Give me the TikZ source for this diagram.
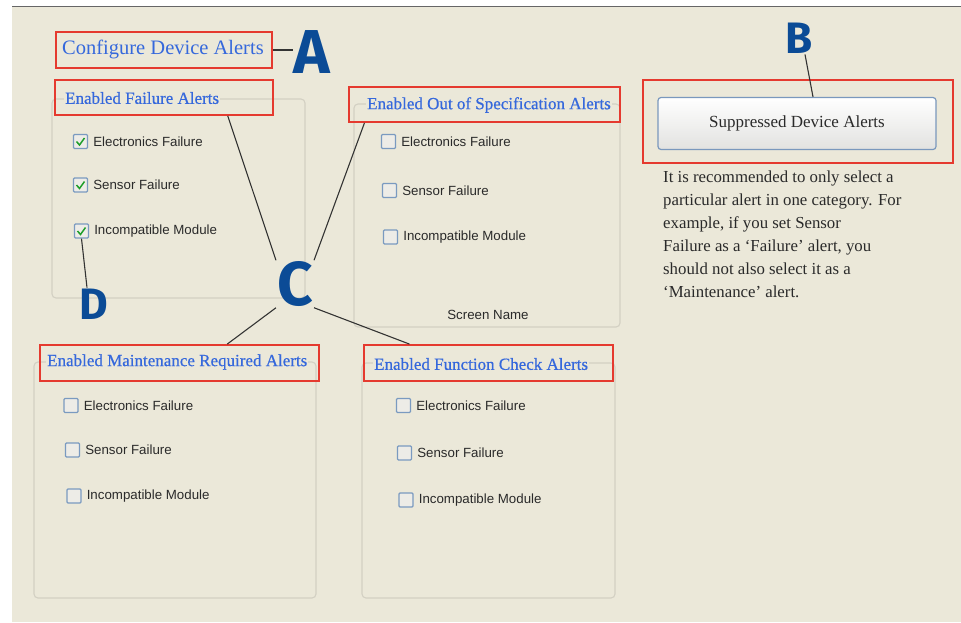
\documentclass[tikz,border=0pt]{standalone}
\usepackage{fontspec}
\setmainfont{Liberation Serif}
\newfontfamily\uisans{Liberation Sans}
\newfontfamily\bigsans{Fira Sans}
\newfontfamily\semiserif{Liberation Serif}[FakeBold=0.6]
\usetikzlibrary{calc}
\definecolor{bg}{HTML}{EBE8D9}
\definecolor{redc}{HTML}{E53A2F}
\definecolor{titleblue}{HTML}{3568DC}
\definecolor{letterblue}{HTML}{0B4B96}
\definecolor{grpc}{HTML}{D3D0C3}
\definecolor{cbc}{HTML}{7A9AC0}
\definecolor{cbfill}{HTML}{EDECE7}
\definecolor{checkc}{HTML}{1E9E2A}
\definecolor{btnborder}{HTML}{7A98BD}
\definecolor{btnbot}{HTML}{E2E2E0}
\definecolor{txt}{HTML}{2A2A2A}
\begin{document}
\begin{tikzpicture}[x=1pt,y=-1pt,
  redbox/.style={draw=redc, line width=1.8pt, inner sep=0pt},
  grp/.style={draw=grpc, line width=1.1pt, rounded corners=4pt},
  title/.style={font=\semiserif\fontsize{17}{20}\selectfont, text=titleblue, fill=bg, inner sep=1pt, anchor=west},
  cbox/.style={draw=cbc, fill=cbfill, line width=1.2pt, minimum size=14pt, inner sep=0pt, rounded corners=1pt},
  cblab/.style={font=\uisans\fontsize{13.3}{15}\selectfont, text=txt, anchor=west, inner sep=0pt},
  bigA/.style={font=\bigsans\bfseries\fontsize{62}{62}\selectfont, text=letterblue, inner sep=1pt},
  bigB/.style={font=\bigsans\bfseries\fontsize{44}{44}\selectfont, text=letterblue, inner sep=1pt},
  conn/.style={draw=black!80, line width=1.1pt},
  tick/.style={draw=checkc, line width=1.5pt}
]
\useasboundingbox (0,0) rectangle (961,622);
\fill[white] (0,0) rectangle (961,622);
\fill[bg] (12,7) rectangle (961,622);
\draw[black!60, line width=1pt] (12,6.5) -- (961,6.5);

% group boxes
\draw[grp] (52,99) rectangle (305,298);
\draw[grp] (354,104) rectangle (620,327);
\draw[grp] (34,362) rectangle (316,598);
\draw[grp] (362,363) rectangle (615,598);

% title A
\node[redbox, minimum width=216pt, minimum height=36pt] (rA) at (164,50) {};
\node[title, font=\fontsize{20.5}{24}\selectfont] (tA) at (61,49) {Configure Device Alerts};

% group titles
\node[title] (tF) at (64,98) {Enabled Failure Alerts};
\node[redbox, minimum width=218pt, minimum height=35pt] (rF) at (164,97.5) {};
\node[title] (tO) at (366,105) {Enabled Out of Specification Alerts};
\node[redbox, minimum width=271pt, minimum height=35pt] (rO) at (484.5,104.5) {};
\node[title] (tM) at (46,362) {Enabled Maintenance Required Alerts};
\node[redbox, minimum width=279pt, minimum height=36pt] (rM) at (179.5,363) {};
\node[title] (tC) at (373,364) {Enabled Function Check Alerts};
\node[redbox, minimum width=249pt, minimum height=36pt] (rC) at (488.5,363) {};

% Failure checkboxes (checked)
\node[cbox] (f1) at (80.5,141.5) {};
\node[cbox] (f2) at (80.5,185) {};
\node[cbox] (f3) at (81.5,231) {};
\foreach \n in {f1,f2,f3}{
  \draw[tick] ($(\n.center)+(-4,0)$) -- ($(\n.center)+(-1,3.5)$) -- ($(\n.center)+(4,-3.5)$);
}
\node[cblab] at ($(f1.east)+(5,0)$) {Electronics Failure};
\node[cblab] at ($(f2.east)+(5,0)$) {Sensor Failure};
\node[cblab] at ($(f3.east)+(5,0)$) {Incompatible Module};

% Out of spec
\node[cbox] (o1) at (388.5,141.5) {};
\node[cbox] (o2) at (389.5,190.5) {};
\node[cbox] (o3) at (390.5,237) {};
\node[cblab] at ($(o1.east)+(5,0)$) {Electronics Failure};
\node[cblab] at ($(o2.east)+(5,0)$) {Sensor Failure};
\node[cblab] at ($(o3.east)+(5,0)$) {Incompatible Module};
\node[cblab, anchor=center] (sn) at (488,315) {Screen Name};

% Maintenance
\node[cbox] (m1) at (71,405.5) {};
\node[cbox] (m2) at (72.5,450) {};
\node[cbox] (m3) at (74,496) {};
\node[cblab] at ($(m1.east)+(5,0)$) {Electronics Failure};
\node[cblab] at ($(m2.east)+(5,0)$) {Sensor Failure};
\node[cblab] at ($(m3.east)+(5,0)$) {Incompatible Module};

% Function check
\node[cbox] (c1) at (403.5,405.5) {};
\node[cbox] (c2) at (404.5,453) {};
\node[cbox] (c3) at (406,500) {};
\node[cblab] at ($(c1.east)+(5,0)$) {Electronics Failure};
\node[cblab] at ($(c2.east)+(5,0)$) {Sensor Failure};
\node[cblab] at ($(c3.east)+(5,0)$) {Incompatible Module};

% B area
\node[redbox, minimum width=310pt, minimum height=83pt] (rB) at (798,121.5) {};
\node[draw=btnborder, line width=1.2pt, rounded corners=3pt, top color=white, bottom color=btnbot,
      minimum width=278pt, minimum height=52pt, font=\fontsize{17}{20}\selectfont, text=txt] (btn) at (797,123.5) {Suppressed Device Alerts};
\node[anchor=north west, align=left, inner sep=0pt, font=\fontsize{16.8}{23}\selectfont, text=txt] (para) at (663,170.5)
{It is recommended to only select a\\particular alert in one category. For\\example, if you set Sensor\\Failure as a ‘Failure’ alert, you\\should not also select it as a\\‘Maintenance’ alert.};

% letters
\node[bigA] (A) at (312,52) {A};
\node[bigA] (C) at (295,284) {C};
\node[bigB] (B) at (799,38) {B};
\node[bigB] (D) at (94,304) {D};

% connectors
\draw[conn] (rA.east) -- (A.west |- rA.east);
\draw[conn] ($(B.south)+(6,0)$) -- ($(btn.north)+(16,0)$);
\draw[conn] (f3.south) -- ($(D.north)+(-7,0)$);
\draw[conn] ($(rF.south west)!0.79!(rF.south east)$) -- (C.north west);
\draw[conn] ($(rO.south west)!0.06!(rO.south east)$) -- (C.north east);
\draw[conn] ($(rM.north west)!0.67!(rM.north east)$) -- (C.south west);
\draw[conn] ($(rC.north west)!0.185!(rC.north east)$) -- (C.south east);
\end{tikzpicture}
\end{document}
